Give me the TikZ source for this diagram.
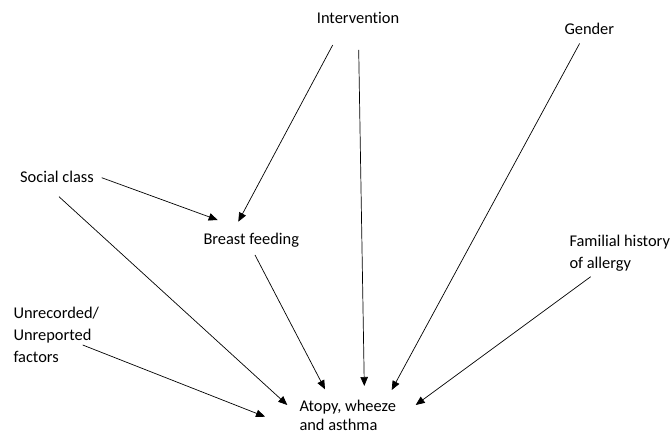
\documentclass[tikz,border=0pt]{standalone}
\usepackage{fontspec}
\setmainfont{Carlito}[Ligatures=NoCommon]
\usetikzlibrary{arrows.meta}
\begin{document}
\begin{tikzpicture}[x=1pt, y=-1pt,
  factor/.style={anchor=base west, inner sep=0pt, align=left,
    font=\fontsize{16.4}{22}\selectfont},
  arr/.style={line width=0.7pt, -{Triangle[length=9pt, width=7.5pt]}}]
  \useasboundingbox (0,0) rectangle (672,435); % page size

  % Factors (base west = baseline of the last line)
  \node[factor] (interv) at (316.7,23.3) {Intervention};
  \node[factor] (gender) at (564.3,35) {Gender};
  \node[factor] (social) at (20,182.3) {Social class};
  \node[factor] (breast) at (203.3,244.3) {Breast feeding};
  \node[factor] (familial) at (569.3,268.5) {Familial history\\of allergy};
  \node[factor] (unrec) at (13.3,362.5) {Unrecorded/\\Unreported\\factors};
  \node[factor, font=\fontsize{16.4}{19}\selectfont] (atopy) at (299.3,430) {Atopy, wheeze\\and asthma};

  % Arrows into breast feeding
  \draw[arr] ([shift={(16,21.7)}]interv.base west) -- ([shift={(35,-22.6)}]breast.base west);
  \draw[arr] ([shift={(81.7,-4.6)}]social.base west) -- ([shift={(14.4,-24.3)}]breast.base west);

  % Arrows into the outcome
  \draw[arr] ([shift={(42,26.7)}]interv.base west) -- ([shift={(65,-44)}]atopy.base west);
  \draw[arr] ([shift={(15.3,8.5)}]gender.base west) -- ([shift={(92.4,-40)}]atopy.base west);
  \draw[arr] ([shift={(39,14.4)}]social.base west) -- ([shift={(-12,-25)}]atopy.base west);
  \draw[arr] ([shift={(51.7,10.7)}]breast.base west) -- ([shift={(25.7,-40.7)}]atopy.base west);
  \draw[arr] ([shift={(21.4,8.2)}]familial.base west) -- ([shift={(116.4,-25)}]atopy.base west);
  \draw[arr] ([shift={(69.4,-17.5)}]unrec.base west) -- ([shift={(-34.3,-13.3)}]atopy.base west);
\end{tikzpicture}
\end{document}
